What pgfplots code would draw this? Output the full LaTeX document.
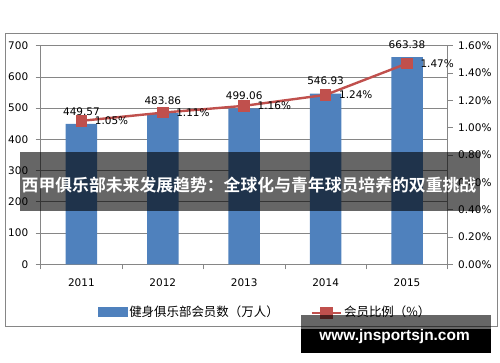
\documentclass[border=0pt]{standalone}
\usepackage{fontspec}
\usepackage{pgfplots}
\pgfplotsset{compat=1.18}
\setmainfont{DejaVu Sans}
\newfontfamily\cjk{Noto Sans CJK SC}
\newfontfamily\cjkb{Noto Sans CJK SC Bold}
\newfontfamily\wm{Liberation Sans}
\definecolor{barblue}{HTML}{4F81BD}
\definecolor{linered}{HTML}{C0504D}
\definecolor{gridgray}{HTML}{868686}
\begin{document}
\begin{tikzpicture}[x=1bp,y=1bp]
\useasboundingbox (0,0) rectangle (500,362);
% outer frame
\draw[gridgray, line width=0.9bp] (5,35.5) rectangle (497,329);
\begin{axis}[
  at={(40.7bp,97.7bp)}, anchor=south west,
  scale only axis, width=407bp, height=218.6bp,
  xmin=-0.5, xmax=4.5, ymin=0, ymax=700,
  axis y line*=left, axis x line*=bottom,
  axis line style={gridgray, line width=0.8bp},
  xtick={0,1,2,3,4}, xticklabels={2011,2012,2013,2014,2015},
  minor xtick={-0.5,0.5,1.5,2.5,3.5,4.5},
  x tick style={draw=none},
  minor x tick style={draw=gridgray, line width=0.8bp},
  minor tick length=5bp,
  ytick={0,100,...,700},
  y tick style={draw=gridgray, line width=0.8bp},
  major tick length=5bp, tick align=outside,
  ymajorgrids, grid style={gridgray, line width=0.8bp},
  ticklabel style={font=\fontsize{10.5}{12}\selectfont, text=black},
  xticklabel style={yshift=-6bp},
  yticklabel style={xshift=-4bp},
  /pgf/number format/assume math mode=true,
  ybar, bar width=31.5bp,
  point meta=explicit symbolic,
  nodes near coords,
  every node near coord/.append style={font=\fontsize{10.5}{12}\selectfont, text=black, yshift=5bp},
  clip=false,
]
\addplot[fill=barblue, draw=none] coordinates {
  (0,449.57) [449.57]
  (1,483.86) [483.86]
  (2,499.06) [499.06]
  (3,546.93) [546.93]
  (4,663.38) [663.38]
};
\end{axis}
\begin{axis}[
  at={(40.7bp,97.7bp)}, anchor=south west,
  scale only axis, width=407bp, height=218.6bp,
  xmin=-0.5, xmax=4.5, ymin=0, ymax=1.6,
  axis x line=none, axis y line*=right,
  axis line style={gridgray, line width=0.8bp},
  ytick={0,0.2,0.4,0.6,0.8,1.0,1.2,1.4,1.6},
  yticklabels={0.00\%,0.20\%,0.40\%,0.60\%,0.80\%,1.00\%,1.20\%,1.40\%,1.60\%},
  y tick style={draw=gridgray, line width=0.8bp},
  major tick length=5bp, tick align=outside,
  ticklabel style={font=\fontsize{10.5}{12}\selectfont, text=black},
  yticklabel style={xshift=2bp},
  point meta=explicit symbolic,
  nodes near coords,
  every node near coord/.append style={font=\fontsize{10.5}{12}\selectfont, text=black, anchor=west, xshift=9bp},
  clip=false,
  legend columns=2,
  legend style={at={(0.14,-0.217)}, anchor=west, draw=none, fill=none,
    font=\cjk\fontsize{12.5}{14}\selectfont, inner sep=0pt,
    /tikz/every even column/.append style={column sep=30bp}},
]
\addlegendimage{legend image code/.code={\fill[barblue] (0bp,-4.5bp) rectangle (29bp,4.5bp);}}
\addlegendentry{健身俱乐部会员数（万人）}
\addplot[color=linered, line width=2.4bp, mark=square*, mark size=4.6bp,
  legend image code/.code={\draw[linered, line width=2.4bp] (0bp,-1bp) -- (29bp,-1bp); \fill[linered] (9.5bp,-5.6bp) rectangle (19.5bp,3.6bp);}]
  coordinates {
  (0,1.05) [1.05\%]
  (1,1.11) [1.11\%]
  (2,1.16) [1.16\%]
  (3,1.24) [1.24\%]
  (4,1.47) [1.47\%]
};
\addlegendentry{会员比例（\%）}
\end{axis}
% title overlay
\fill[black, opacity=0.6] (20,151) rectangle (480,210);
\node[text=white, font=\cjkb\fontsize{16.9}{18}\selectfont, inner sep=0pt] at (249,176.5) {西甲俱乐部未来发展趋势：全球化与青年球员培养的双重挑战};
% watermark
\fill[black, opacity=0.6] (301,33) rectangle (491,47);
\fill[black] (301,9.3) rectangle (491,33);
\node[text=white, font=\wm\bfseries\fontsize{15.5}{18}\selectfont, inner sep=0pt] at (394.5,25) {www.jnsportsjn.com};
\end{tikzpicture}
\end{document}
